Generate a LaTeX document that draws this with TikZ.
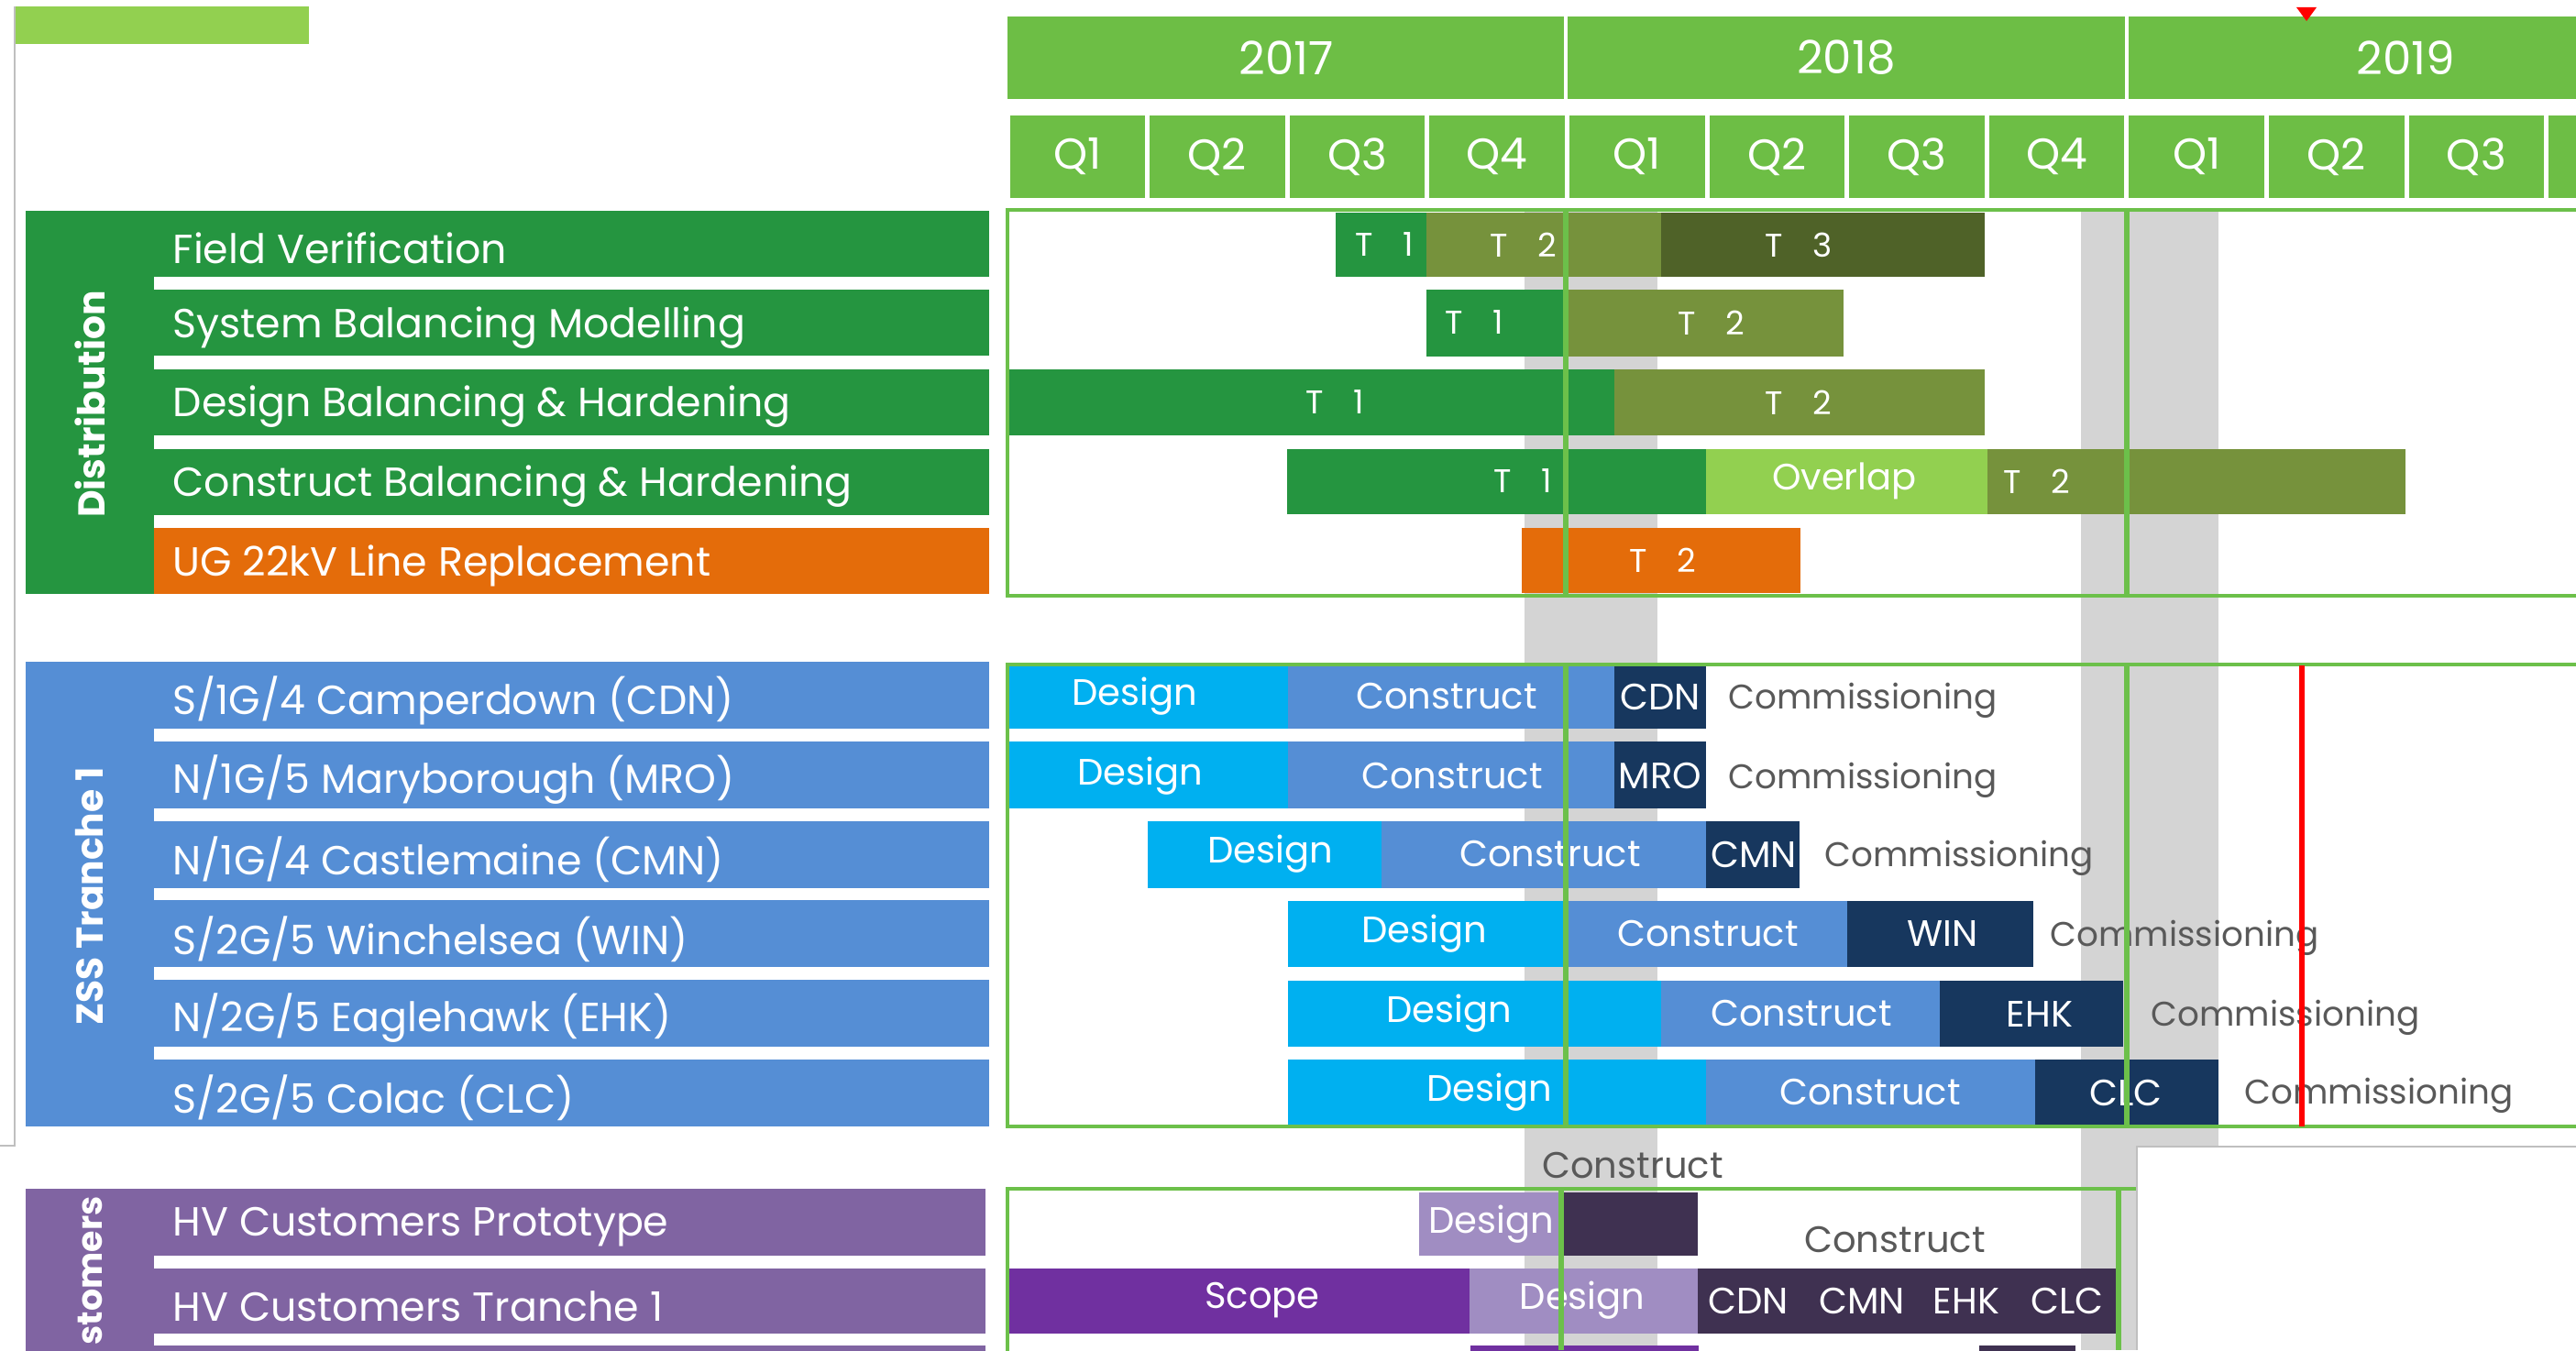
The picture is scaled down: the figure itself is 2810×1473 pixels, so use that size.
\documentclass[tikz,border=0pt]{standalone}
\usepackage{fontspec}
\setmainfont{Poppins}
\definecolor{hgreen}{HTML}{6DBE45}
\definecolor{lgreen}{HTML}{92D050}
\definecolor{dgreen}{HTML}{259540}
\definecolor{olive}{HTML}{76923C}
\definecolor{dolive}{HTML}{4F6228}
\definecolor{orng}{HTML}{E46C0A}
\definecolor{lblue}{HTML}{558ED5}
\definecolor{cyanb}{HTML}{00B0F0}
\definecolor{navy}{HTML}{17375E}
\definecolor{lpurp}{HTML}{8064A2}
\definecolor{spurp}{HTML}{7030A0}
\definecolor{mpurp}{HTML}{A08DC2}
\definecolor{dpurp}{HTML}{3F3151}
\definecolor{band}{HTML}{D4D4D4}
\definecolor{gline}{HTML}{6CC04A}
\definecolor{txtgray}{HTML}{595959}
\definecolor{framegray}{HTML}{BFBFBF}
\tikzset{
  lbl/.style={anchor=west, text=white, inner sep=0pt, font=\fontsize{12.6}{14}\selectfont},
  vlab/.style={rotate=90, text=white, inner sep=0pt, font=\fontsize{11.6}{13}\selectfont\bfseries},
  ttxt/.style={text=white, inner sep=0pt, font=\fontsize{10.2}{12}\selectfont},
  btxt/.style={text=white, inner sep=0pt, font=\fontsize{11.4}{13}\selectfont},
  gtxt/.style={text=txtgray, inner sep=0pt, font=\fontsize{11.4}{13}\selectfont},
  comm/.style={text=txtgray, anchor=west, inner sep=0pt, font=\fontsize{10.6}{12}\selectfont},
  qtxt/.style={text=white, inner sep=0pt, font=\fontsize{13.4}{15}\selectfont},
  ytxt/.style={text=white, inner sep=0pt, font=\fontsize{14.2}{16}\selectfont},
  gframe/.style={draw=gline, line width=1.4pt},
  gvert/.style={draw=gline, line width=1.6pt},
}
\newcommand{\TT}[1]{T\hspace{0.9em}#1}
\begin{document}
\begin{tikzpicture}[x=0.01cm,y=-0.01cm]
\useasboundingbox (0,0) rectangle (2810,1473);
\clip (0,0) rectangle (2810,1473);
\fill[white] (0,0) rectangle (2810,1473);

% top-left decoration and frame
\fill[lgreen] (17,7) rectangle (337,48);
\draw[framegray, line width=0.6pt] (0,1250) -- (16,1250) -- (16,7);

% ---------- header ----------
\fill[hgreen] (1099,18) rectangle (1706,108);
\fill[hgreen] (1710,18) rectangle (2318,108);
\fill[hgreen] (2322,18) rectangle (2810,108);
\node[ytxt] (y17) at (1403,63) {2017};
\node[ytxt] (y18) at (2014,63) {2018};
\node[ytxt] (y19) at (2624,63) {2019};
\foreach \k in {0,...,11}
  \fill[hgreen] ({1099+152.6*\k+2.5},126) rectangle ({1099+152.6*(\k+1)-2.5},216);
\foreach \k/\q in {0/Q1,1/Q2,2/Q3,3/Q4,4/Q1,5/Q2,6/Q3,7/Q4,8/Q1,9/Q2,10/Q3}
  \node[qtxt] (q\k) at ({1099+152.6*\k+76.3},171) {\q};
\fill[red] (2505,8) -- (2527,8) -- (2516,23) -- cycle;

% ---------- grey bands ----------
\fill[band] (1663,229) rectangle (1808,1473);
\fill[band] (2270,229) rectangle (2420,1473);

% ---------- left label blocks ----------
\fill[dgreen] (28,230) rectangle (1079,648);
\foreach \a/\b in {302/316.5, 388.5/403, 475/489.5, 561.5/576}
  \fill[white] (168,\a) rectangle (1079,\b);
\fill[orng] (168,576) rectangle (1079,648);
\node[vlab] (lDist) at (98,441) {Distribution};
\node[lbl] (l1) at (188,271) {Field Verification};
\node[lbl] (l2) at (188,357.5) {System Balancing Modelling};
\node[lbl] (l3) at (188,444) {Design Balancing \& Hardening};
\node[lbl] (l4) at (188,530.5) {Construct Balancing \& Hardening};
\node[lbl] (l5) at (188,617) {UG 22kV Line Replacement};

\fill[lblue] (28,722) rectangle (1079,1229);
\foreach \a/\b in {795/808.8, 881.8/895.6, 968.6/982.4, 1055.4/1069.2, 1142.2/1156}
  \fill[white] (168,\a) rectangle (1079,\b);
\node[vlab] (lZss) at (98,978) {ZSS Tranche 1};
\node[lbl] (z1) at (188,764) {S/1G/4 Camperdown (CDN)};
\node[lbl] (z2) at (188,851) {N/1G/5 Maryborough (MRO)};
\node[lbl] (z3) at (188,937.5) {N/1G/4 Castlemaine (CMN)};
\node[lbl] (z4) at (188,1024.5) {S/2G/5 Winchelsea (WIN)};
\node[lbl] (z5) at (188,1111) {N/2G/5 Eaglehawk (EHK)};
\node[lbl] (z6) at (188,1198) {S/2G/5 Colac (CLC)};

\fill[lpurp] (28,1297) rectangle (1075,1480);
\foreach \a/\b in {1370/1384, 1455/1468}
  \fill[white] (168,\a) rectangle (1075,\b);
\node[vlab, anchor=west, font=\fontsize{10.8}{12}\selectfont\bfseries] (lCus) at (98,1468) {stomers};
\node[lbl] (c1) at (188,1339) {HV Customers Prototype};
\node[lbl] (c2) at (188,1425) {HV Customers Tranche 1};

% ---------- Distribution bars ----------
\fill[dgreen] (1457,232) rectangle (1556,302);
\fill[olive] (1556,232) rectangle (1812,302);
\fill[dolive] (1812,232) rectangle (2165,302);
\fill[dgreen] (1556,316) rectangle (1708,389);
\fill[olive] (1708,316) rectangle (2011,389);
\fill[dgreen] (1099,403) rectangle (1761,475);
\fill[olive] (1761,403) rectangle (2165,475);
\fill[dgreen] (1404,490) rectangle (1861,561);
\fill[lgreen] (1861,490) rectangle (2168,561);
\fill[olive] (2168,490) rectangle (2624,561);
\fill[orng] (1660,576) rectangle (1964,647);
\node[ttxt] (d11) at (1510,267) {\TT1};
\node[ttxt] (d12) at (1662,267) {\TT2};
\node[ttxt] (d13) at (1962,267) {\TT3};
\node[ttxt] (d21) at (1608,352) {\TT1};
\node[ttxt] (d22) at (1867,352) {\TT2};
\node[ttxt] (d31) at (1456,439) {\TT1};
\node[ttxt] (d32) at (1962,439) {\TT2};
\node[ttxt] (d41) at (1661,525) {\TT1};
\node[btxt] (d4o) at (2012,525) {Overlap};
\node[ttxt] (d42) at (2222,525) {\TT2};
\node[ttxt] (d52) at (1814,611) {\TT2};

% ---------- ZSS bars ----------
\fill[cyanb] (1099,726) rectangle (1405,795);
\fill[lblue] (1405,726) rectangle (1761,795);
\fill[navy] (1761,726) rectangle (1861,795);
\fill[cyanb] (1099,809) rectangle (1405,882);
\fill[lblue] (1405,809) rectangle (1761,882);
\fill[navy] (1761,809) rectangle (1861,882);
\fill[cyanb] (1252,896) rectangle (1507,969);
\fill[lblue] (1507,896) rectangle (1861,969);
\fill[navy] (1861,896) rectangle (1963,969);
\fill[cyanb] (1405,983) rectangle (1708,1055);
\fill[lblue] (1708,983) rectangle (2015,1055);
\fill[navy] (2015,983) rectangle (2218,1055);
\fill[cyanb] (1405,1070) rectangle (1812,1142);
\fill[lblue] (1812,1070) rectangle (2116,1142);
\fill[navy] (2116,1070) rectangle (2316,1142);
\fill[cyanb] (1405,1156) rectangle (1861,1227);
\fill[lblue] (1861,1156) rectangle (2220,1227);
\fill[navy] (2220,1156) rectangle (2420,1227);

\node[btxt] (s1d) at (1238,760) {Design};
\node[btxt] (s1c) at (1578,760) {Construct};
\node[btxt] (s1n) at (1811,760) {CDN};
\node[comm] (s1m) at (1885,764) {Commissioning};
\node[btxt] (s2d) at (1244,847) {Design};
\node[btxt] (s2c) at (1584,847) {Construct};
\node[btxt] (s2n) at (1811,847) {MRO};
\node[comm] (s2m) at (1885,851) {Commissioning};
\node[btxt] (s3d) at (1386,932) {Design};
\node[btxt] (s3c) at (1691,932) {Construct};
\node[btxt] (s3n) at (1913,932) {CMN};
\node[comm] (s3m) at (1990,936) {Commissioning};
\node[btxt] (s4d) at (1554,1019) {Design};
\node[btxt] (s4c) at (1863,1019) {Construct};
\node[btxt] (s4n) at (2119,1019) {WIN};
\node[comm] (s4m) at (2236,1023) {Commissioning};
\node[btxt] (s5d) at (1581,1106) {Design};
\node[btxt] (s5c) at (1965,1106) {Construct};
\node[btxt] (s5n) at (2225,1106) {EHK};
\node[comm] (s5m) at (2346,1110) {Commissioning};
\node[btxt] (s6d) at (1625,1192) {Design};
\node[btxt] (s6c) at (2040,1192) {Construct};
\node[btxt] (s6n) at (2319,1192) {CLC};
\node[comm] (s6m) at (2448,1195) {Commissioning};

% ---------- Customers bars ----------
\fill[mpurp] (1548,1301) rectangle (1704,1370);
\fill[dpurp] (1704,1301) rectangle (1852,1370);
\fill[spurp] (1099,1384) rectangle (1603,1455);
\fill[mpurp] (1603,1384) rectangle (1852,1455);
\fill[dpurp] (1852,1384) rectangle (2308,1455);
\fill[spurp] (1604,1468) rectangle (1853,1480);
\fill[dpurp] (2159,1468) rectangle (2264,1480);
\node[btxt] (p1d) at (1627,1336) {Design};
\node[gtxt] (p1c) at (2067,1353) {Construct};
\node[gtxt] (gapc) at (1781,1272) {Construct};
\node[btxt] (p2s) at (1377,1419) {Scope};
\node[btxt] (p2d) at (1726,1419) {Design};
\node[btxt] (p2a) at (1907,1419) {CDN};
\node[btxt] (p2b) at (2031,1419) {CMN};
\node[btxt] (p2c) at (2145,1419) {EHK};
\node[btxt] (p2e) at (2255,1419) {CLC};

% ---------- green frames and year lines ----------
\draw[gframe] (1099,229) rectangle (2860,650);
\draw[gframe] (1099,725) rectangle (2860,1229);
\draw[gframe] (1099,1297) rectangle (2860,1500);
\foreach \x in {1708,2320} {
  \draw[gvert] (\x,229) -- (\x,650);
  \draw[gvert] (\x,725) -- (\x,1229);
}
\draw[gvert] (1703,1297) -- (1703,1473);
\draw[gvert] (2311,1297) -- (2311,1473);

% today line
\draw[red, line width=1.7pt] (2511,726) -- (2511,1229);

% white patch bottom right
\fill[white] (2331,1251) rectangle (2810,1473);
\draw[framegray, line width=0.5pt] (2331,1473) -- (2331,1251) -- (2810,1251);
\end{tikzpicture}
\end{document}
